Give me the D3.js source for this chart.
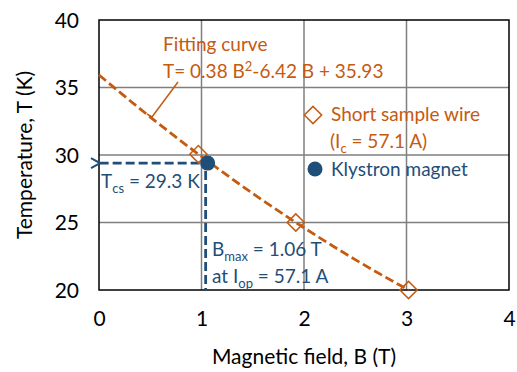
<!DOCTYPE html>
<html>
<head>
<meta charset="utf-8">
<script src="https://d3js.org/d3.v7.min.js"></script>
<style>
  body { margin: 0; background: #fff; }
  text { font-family: Lato, "Open Sans", sans-serif; }
</style>
</head>
<body>
<svg id="chart" width="517" height="372"></svg>
<script>
// data
var xTicks = [0, 1, 2, 3, 4];
var yTicks = [20, 25, 30, 35, 40];
var wireB = [0.97, 1.92, 3.02];
var wireT = [30.06, 25.0, 20.0];
var fitB = [0, 0.5, 1.0, 1.5, 2.0, 2.5, 3.02];
var fitT = [35.93, 32.81, 29.89, 27.15, 24.61, 22.25, 20.0];
var magnetB = [1.06];
var magnetT = [29.4];

var orange = "#c55a11", blue = "#1f4e79";
var W = 517, H = 372;
var m = {top: 20, right: 8, bottom: 82, left: 99};
var svg = d3.select("#chart");
var fs = 19, sub = 13;

var x = d3.scaleLinear().domain([0, 4]).range([m.left, W - m.right]);
var y = d3.scaleLinear().domain([20, 40]).range([H - m.bottom, m.top]);

// grid
svg.append("g").selectAll("line.v").data(xTicks.slice(1, -1)).enter()
  .append("line")
  .attr("x1", function(d) { return x(d); }).attr("x2", function(d) { return x(d); })
  .attr("y1", y(20)).attr("y2", y(40))
  .attr("stroke", "#7f7f7f").attr("stroke-width", 1.5);
svg.append("g").selectAll("line.h").data(yTicks.slice(1, -1)).enter()
  .append("line")
  .attr("y1", function(d) { return y(d); }).attr("y2", function(d) { return y(d); })
  .attr("x1", x(0)).attr("x2", x(4))
  .attr("stroke", "#7f7f7f").attr("stroke-width", 1.5);

// frame
svg.append("rect")
  .attr("x", x(0)).attr("y", y(40))
  .attr("width", x(4) - x(0)).attr("height", y(20) - y(40))
  .attr("fill", "none").attr("stroke", "#000").attr("stroke-width", 1.5);

// axes (labels only)
var xAxis = svg.append("g").attr("transform", "translate(0," + (y(20) + 18) + ")")
  .call(d3.axisBottom(x).tickValues(xTicks).tickFormat(d3.format("d")).tickSize(0));
xAxis.select(".domain").remove();
xAxis.selectAll("text").attr("font-size", 21).attr("fill", "#000").attr("font-family", null);

var yAxis = svg.append("g").attr("transform", "translate(" + (x(0) - 17) + ",0)")
  .call(d3.axisLeft(y).tickValues(yTicks).tickFormat(d3.format("d")).tickSize(0));
yAxis.select(".domain").remove();
yAxis.selectAll("text").attr("font-size", 21).attr("fill", "#000").attr("font-family", null)
  .attr("dy", "0.35em");

svg.append("text").attr("x", (x(0) + x(4)) / 2).attr("y", 364)
  .attr("text-anchor", "middle").attr("font-size", 21).text("Magnetic field, B (T)");
svg.append("text").attr("transform", "translate(32," + ((y(20) + y(40)) / 2) + ") rotate(-90)")
  .attr("text-anchor", "middle").attr("font-size", 21).text("Temperature, T (K)");

// arrow marker
svg.append("defs").append("marker")
  .attr("id", "arr").attr("viewBox", "0 0 12 12").attr("refX", 1).attr("refY", 6)
  .attr("markerUnits", "userSpaceOnUse")
  .attr("markerWidth", 12).attr("markerHeight", 12).attr("orient", "auto-start-reverse")
  .append("path").attr("d", "M10,1 L1,6 L10,11").attr("fill", "none")
  .attr("stroke", blue).attr("stroke-width", 2);

// blue dashed guides
svg.append("line")
  .attr("x1", x(magnetB[0]) - 8).attr("y1", y(magnetT[0]))
  .attr("x2", x(0) + 1).attr("y2", y(magnetT[0]))
  .attr("stroke", blue).attr("stroke-width", 2.8).attr("stroke-dasharray", "9,4")
  .attr("marker-end", "url(#arr)");
svg.append("line")
  .attr("x1", x(magnetB[0]) - 2).attr("y1", y(magnetT[0]) + 8)
  .attr("x2", x(magnetB[0]) - 2).attr("y2", y(20))
  .attr("stroke", blue).attr("stroke-width", 2.8).attr("stroke-dasharray", "9,4");

// fitting curve
var fit = fitB.map(function(d, i) { return [d, fitT[i]]; });
svg.append("path").datum(fit)
  .attr("d", d3.line().x(function(d) { return x(d[0]); }).y(function(d) { return y(d[1]); }).curve(d3.curveMonotoneX))
  .attr("fill", "none").attr("stroke", orange).attr("stroke-width", 2.8)
  .attr("stroke-dasharray", "9,4");

// short sample wire points
var diamond = d3.symbol().type(d3.symbolSquare).size(150);
svg.append("g").selectAll("path").data(wireB).enter().append("path")
  .attr("d", diamond)
  .attr("transform", function(d, i) { return "translate(" + x(d) + "," + y(wireT[i]) + ") rotate(45)"; })
  .attr("fill", "none").attr("stroke", orange).attr("stroke-width", 1.5);

// klystron magnet
svg.append("g").selectAll("circle").data(magnetB).enter().append("circle")
  .attr("cx", function(d) { return x(d); })
  .attr("cy", function(d, i) { return y(magnetT[i]); })
  .attr("r", 7.5).attr("fill", blue);

// fitting curve label + leader
var fl = svg.append("g").attr("fill", orange).attr("font-size", fs);
fl.append("text").attr("x", 163).attr("y", 51).text("Fitting curve");
var t2 = fl.append("text").attr("x", 163).attr("y", 78);
t2.append("tspan").text("T= 0.38 B");
t2.append("tspan").attr("dy", -7).attr("font-size", sub).text("2");
t2.append("tspan").attr("dy", 7).text("-6.42 B + 35.93");
svg.append("path").attr("d", "M178,82 L152,117 L147,114")
  .attr("fill", "none").attr("stroke", orange).attr("stroke-width", 1.5);

// legend
svg.append("path").attr("d", diamond)
  .attr("transform", "translate(313,115) rotate(45)")
  .attr("fill", "none").attr("stroke", orange).attr("stroke-width", 1.5);
var lg = svg.append("g").attr("font-size", fs);
lg.append("text").attr("x", 331).attr("y", 121).attr("fill", orange).text("Short sample wire");
var ic = lg.append("text").attr("x", 330).attr("y", 148).attr("fill", orange);
ic.append("tspan").text("(I");
ic.append("tspan").attr("dy", 5).attr("font-size", sub).text("c");
ic.append("tspan").attr("dy", -5).text(" = 57.1 A)");
svg.append("circle").attr("cx", 315).attr("cy", 169).attr("r", 7.5).attr("fill", blue);
lg.append("text").attr("x", 331).attr("y", 176).attr("fill", blue).text("Klystron magnet");

// blue annotations
var bl = svg.append("g").attr("font-size", fs).attr("fill", blue);
var tc = bl.append("text").attr("x", 101).attr("y", 188);
tc.append("tspan").text("T");
tc.append("tspan").attr("dy", 5).attr("font-size", sub).text("cs");
tc.append("tspan").attr("dy", -5).text(" = 29.3 K");
var bm = bl.append("text").attr("x", 212).attr("y", 256);
bm.append("tspan").text("B");
bm.append("tspan").attr("dy", 5).attr("font-size", sub).text("max");
bm.append("tspan").attr("dy", -5).text(" = 1.06 T");
var io = bl.append("text").attr("x", 212).attr("y", 283);
io.append("tspan").text("at I");
io.append("tspan").attr("dy", 5).attr("font-size", sub).text("op");
io.append("tspan").attr("dy", -5).text(" = 57.1 A");
</script>
</body>
</html>
